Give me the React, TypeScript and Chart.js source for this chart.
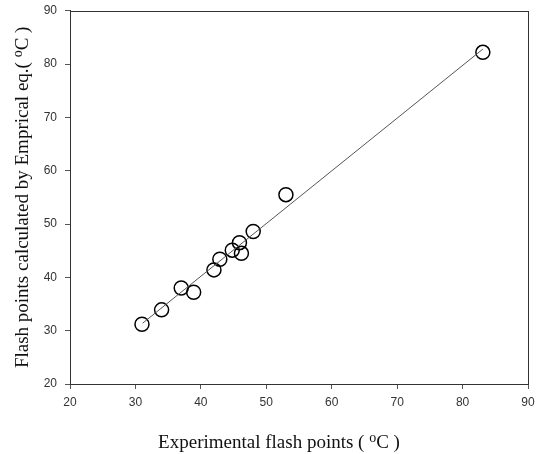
import React, { useEffect, useRef } from "react";
import { Chart, registerables } from "chart.js";

Chart.register(...registerables);

const experimental = [31, 34, 37, 38.9, 42, 42.9, 44.8, 45.9, 46.2, 48, 53, 83.1];
const empirical = [31.2, 33.9, 38, 37.2, 41.4, 43.4, 45.1, 46.5, 44.5, 48.6, 55.5, 82.2];
const fitX = [31.1, 83.1];
const fitY = [31.4, 82.8];
const axisMin = 20;
const axisMax = 90;
const axisStep = 10;
const xTitleParts = ["Experimental flash points ( ", "o", "C )"];
const yTitleParts = ["Flash points calculated by Emprical eq.( ", "o", "C )"];

const MAIN_FONT = '19px "Liberation Serif", "Times New Roman", serif';
const SUP_FONT = '14px "Liberation Serif", "Times New Roman", serif';

function drawParts(ctx: CanvasRenderingContext2D, parts: string[], cx: number, baseline: number) {
  const fonts = [MAIN_FONT, SUP_FONT, MAIN_FONT];
  const shifts = [0, -6.3, 0];
  const widths = parts.map((p, i) => {
    ctx.font = fonts[i];
    return ctx.measureText(p).width;
  });
  const total = widths.reduce((a, b) => a + b, 0);
  let x = cx - total / 2;
  parts.forEach((p, i) => {
    ctx.font = fonts[i];
    ctx.fillText(p, x, baseline + shifts[i]);
    x += widths[i];
  });
}

const framePlugin = {
  id: "frame",
  afterDraw(chart: any) {
    const { ctx, chartArea } = chart;
    ctx.save();
    ctx.strokeStyle = "#333";
    ctx.lineWidth = 1;
    ctx.strokeRect(
      Math.round(chartArea.left) + 0.5,
      Math.round(chartArea.top) + 0.5,
      Math.round(chartArea.right - chartArea.left),
      Math.round(chartArea.bottom - chartArea.top)
    );
    ctx.fillStyle = "#111";
    ctx.textAlign = "left";
    ctx.textBaseline = "alphabetic";
    drawParts(ctx, xTitleParts, 279, 448);
    ctx.translate(28.3, (chartArea.top + chartArea.bottom) / 2);
    ctx.rotate(-Math.PI / 2);
    drawParts(ctx, yTitleParts, 0, 0);
    ctx.restore();
  },
};

export default function App() {
  const ref = useRef<HTMLCanvasElement | null>(null);

  useEffect(() => {
    if (!ref.current) return;
    const tickFont = { family: '"Liberation Sans", Arial, sans-serif', size: 12 };
    const chart = new Chart(ref.current, {
      type: "scatter",
      data: {
        datasets: [
          {
            type: "line",
            data: fitX.map((x, i) => ({ x, y: fitY[i] })),
            borderColor: "#555",
            borderWidth: 1,
            pointRadius: 0,
            fill: false,
          },
          {
            type: "scatter",
            data: experimental.map((x, i) => ({ x, y: empirical[i] })),
            pointRadius: 7,
            pointHoverRadius: 7,
            pointBorderWidth: 1.5,
            borderColor: "#000",
            backgroundColor: "rgba(0,0,0,0)",
          },
        ],
      },
      options: {
        animation: false,
        responsive: true,
        maintainAspectRatio: false,
        layout: { padding: { top: 10.7, right: 12, left: 0, bottom: 0 } },
        plugins: { legend: { display: false }, tooltip: { enabled: false } },
        scales: {
          x: {
            type: "linear",
            min: axisMin,
            max: axisMax,
            ticks: { stepSize: axisStep, color: "#333", font: tickFont, padding: 6 },
            grid: { drawOnChartArea: false, drawTicks: true, tickLength: 5, color: "#555" },
            border: { display: true, color: "#333" },
            afterFit: (s: any) => {
              s.height = 70;
              s.paddingLeft = 0;
              s.paddingRight = 0;
            },
          },
          y: {
            type: "linear",
            min: axisMin,
            max: axisMax,
            ticks: { stepSize: axisStep, color: "#333", font: tickFont, padding: 8 },
            grid: { drawOnChartArea: false, drawTicks: true, tickLength: 5, color: "#555" },
            border: { display: true, color: "#333" },
            afterFit: (s: any) => {
              s.width = 70;
              s.paddingTop = 0;
              s.paddingBottom = 0;
            },
          },
        },
      },
      plugins: [framePlugin],
    });
    return () => chart.destroy();
  }, []);

  return (
    <div style={{ position: "fixed", left: 0, top: 0, width: 540, height: 454, background: "#fff" }}>
      <canvas ref={ref} />
    </div>
  );
}
